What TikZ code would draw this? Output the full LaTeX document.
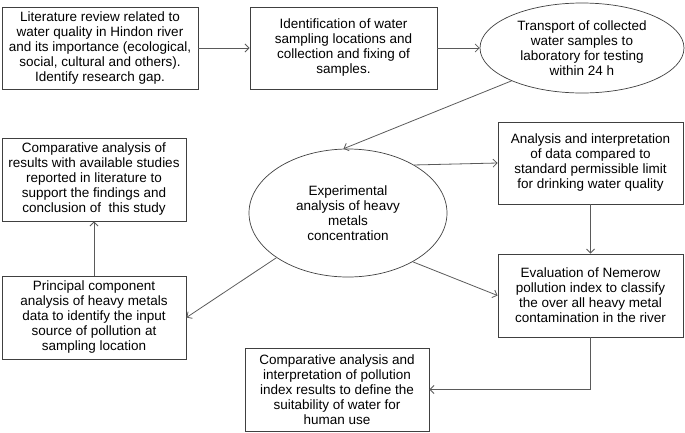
\documentclass[tikz,border=0pt]{standalone}
\usepackage{fontspec}
\setmainfont{Liberation Sans}
\usetikzlibrary{shapes.geometric,arrows.meta}
\definecolor{boxline}{RGB}{64,64,64}
\definecolor{arrline}{RGB}{90,90,90}
\begin{document}
\begin{tikzpicture}[x=1pt,y=-1pt,
  boxnode/.style={draw=boxline,line width=0.9pt,rectangle,align=center,inner sep=0pt,
    font=\fontsize{13.5}{15}\selectfont},
  ellnode/.style={draw=boxline,line width=0.7pt,ellipse,align=center,inner sep=0pt,
    font=\fontsize{13.5}{15}\selectfont},
  conn/.style={draw=arrline,line width=0.8pt,-{Straight Barb[length=4pt,width=8pt]}}]
\useasboundingbox (0,0) rectangle (685,432);
\node[boxnode,minimum width=196,minimum height=82] (b1) at (100,48)
  {Literature review related to\\water quality in Hindon river\\and its importance (ecological,\\social, cultural and others).\\Identify research gap.};
\node[boxnode,minimum width=187,minimum height=82] (b2) at (343.5,48)
  {Identification of water\\sampling locations and\\collection and fixing of\\samples.};
\node[ellnode,minimum width=204,minimum height=90] (e1) at (582,48)
  {Transport of collected\\water samples to\\laboratory for testing\\within 24 h};
\node[ellnode,minimum width=198,minimum height=128] (e2) at (348,213)
  {Experimental\\analysis of heavy\\metals\\concentration};
\node[boxnode,minimum width=184,minimum height=83] (cmp) at (94,179.5)
  {Comparative analysis of\\results with available studies\\reported in literature to\\support the findings and\\conclusion of~ this study};
\node[boxnode,minimum width=184,minimum height=83] (pc) at (94,317.5)
  {Principal component\\analysis of heavy metals\\data to identify the input\\source of pollution at\\sampling location};
\node[boxnode,minimum width=185,minimum height=82] (an) at (590.5,163)
  {Analysis and interpretation\\of data compared to\\standard permissible limit\\for drinking water quality};
\node[boxnode,minimum width=185,minimum height=83] (ev) at (590.5,295.5)
  {Evaluation of Nemerow\\pollution index to classify\\the over all heavy metal\\contamination in the river};
\node[boxnode,minimum width=184,minimum height=83] (fin) at (337,389.5)
  {Comparative analysis and\\interpretation of pollution\\index results to define the\\suitability of water for\\human use};
\draw[conn] (b1.east) -- (b2.west);
\draw[conn] (b2.east) -- (e1.west);
\draw[conn] (e1.205) -- (e2.94);
\draw[conn] (e2.36) -- (an.west);
\draw[conn] (e2.323) -- (ev.west);
\draw[conn] (e2.212) -- (pc.east);
\draw[conn] (pc.north) -- (cmp.south);
\draw[conn] (an.south) -- (ev.north);
\draw[conn] (ev.south) |- (fin.east);
\end{tikzpicture}
\end{document}
